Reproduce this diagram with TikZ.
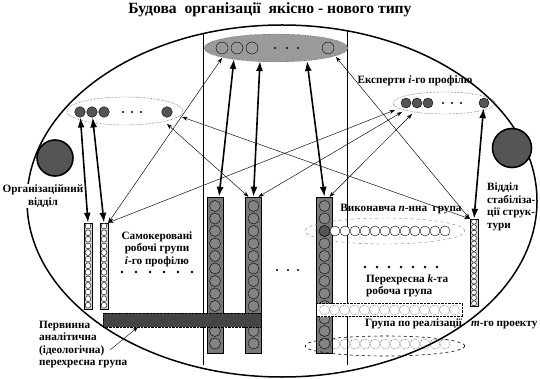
\documentclass[tikz,border=0pt]{standalone}
\usepackage{fontspec}
\setmainfont{Liberation Serif}
\usetikzlibrary{arrows.meta,calc,shapes.geometric}
\definecolor{colgray}{HTML}{787878}
\definecolor{circgray}{HTML}{848484}
\definecolor{topgray}{HTML}{9A9A9A}
\definecolor{dark}{HTML}{555555}
\definecolor{bandgray}{HTML}{454545}
\tikzset{>=Latex,line width=.5pt,
  every node/.style={font=\bfseries\fontsize{11.2}{12.6}\selectfont},
  thinarrow/.style={<->,>={Stealth[length=5.5pt,width=4pt]},line width=.45pt},
  bigarrow/.style={<->,>={Latex[length=10pt,width=7pt]},line width=1.6pt},
  expert/.style={circle,draw,fill=dark,minimum size=10.6pt,inner sep=0pt},
  tallcol/.style={rectangle,draw,fill=colgray,minimum width=16pt,minimum height=156pt,inner sep=0pt},
  smallcol/.style={rectangle,draw,fill=gray!35,minimum width=8pt,inner sep=0pt},
  groupell/.style={ellipse,inner sep=0pt,outer sep=0pt},
  bigdot/.style={circle,draw,line width=1.6pt,fill=dark,inner sep=0pt},
  note/.style={align=left,inner sep=0pt}}
\begin{document}
\begin{tikzpicture}[x=1pt,y=-1pt]
\path[use as bounding box] (0,0) rectangle (540,379);
\node[font=\bfseries\fontsize{15.6}{17}\selectfont] (title) at (270,10) {Будова\ \ організації\ \ якісно - нового типу};
% outer contour and the two vertical lines
\draw[line width=1.5pt] (282,201) ellipse [x radius=255pt, y radius=176pt];
\begin{scope}
\clip (282,201) ellipse [x radius=255pt, y radius=176pt];
\draw (203,0) -- (203,365) (347,0) -- (347,365);
\end{scope}
% leading group on top
\node[groupell,draw,dotted,fill=topgray,minimum width=144pt,minimum height=28pt] (lead) at (276,48) {};
\foreach \x in {222,237,252,328} \draw (\x,48) circle (6pt);
\foreach \x in {275,287,298} \fill (\x,48) circle (1.2pt);
% experts
\node[groupell,draw,densely dotted,minimum width=116pt,minimum height=28pt] (lexp) at (125,111) {};
\foreach \x [count=\i] in {80,92,104,167} \node[expert] (le\i) at (\x,112) {};
\foreach \x in {123,132,141} \fill (\x,112) circle (1.1pt);
\node[groupell,draw,densely dotted,minimum width=102pt,minimum height=22pt] (rexp) at (444,103) {};
\foreach \x [count=\i] in {406,417,428,484} \node[expert,minimum size=10pt] (re\i) at (\x,103) {};
\foreach \x in {443,452,461} \fill (\x,103) circle (1.1pt);
\node (explabel) at (415,81) {Експерти \textit{і}-го профілю};
% departments
\node[bigdot,minimum size=36pt] (orgc) at (55,158) {};
\node[bigdot,minimum size=39pt] (stabc) at (512,148) {};
\node[fill=white,inner sep=1pt,align=center] (orglabel) at (43,196) {Організаційний\\відділ};
\node[note,anchor=west] (stablabel) at (487,207) {Відділ\\стабіліза-\\ції струк-\\тури};
% small columns
\node[smallcol,minimum height=86pt] (lc1) at (88,266) {};
\node[smallcol,minimum height=86pt] (lc2) at (104,266) {};
\foreach \c in {lc1,lc2} \foreach \k in {0,...,12} \draw[fill=white,line width=.4pt] ($(\c.north)+(0,3.3+6.6*\k)$) circle (2.9pt);
\node[smallcol,minimum height=87pt] (rc) at (474,262.5) {};
\foreach \k in {0,...,15} \draw[fill=white,line width=.4pt] (474,221.7+5.44*\k) circle (2.5pt);
% tall columns
\foreach \x/\n in {215/colA,253.5/colB,324.5/colC} {
  \node[tallcol] (\n) at (\x,275) {};
  \foreach \k in {0,...,11} \draw[fill=circgray] (\x,206+12.5*\k) circle (5.5pt);}
\draw[fill=dark] (324.5,231) circle (5.5pt);
\foreach \x in {277,288,298} \fill (\x,270) circle (1.1pt);
% primary cross group
\node[rectangle,draw,densely dotted,fill=bandgray,minimum width=158pt,minimum height=14pt,inner sep=0pt] (pband) at (182,320) {};
\foreach \k in {0,...,11} \draw[densely dotted,draw=black!70] (253.5-13*\k,320) circle (6.3pt);
% executive group
\node[groupell,draw=gray,dashed,minimum width=160pt,minimum height=26pt] (nell) at (385,231) {};
\foreach \k in {0,...,11} \draw[fill=white] (335+10*\k,231) circle (5pt);
\node (nlabel) at (401,209) {Виконавча \textit{n}-нна\ \ група};
% k-th cross group
\node[rectangle,draw,densely dotted,fill=white,minimum width=146pt,minimum height=13pt,inner sep=0pt] (kband) at (389.5,310) {};
\foreach \k in {0,...,13} \draw[densely dotted] (324.5+10*\k,310) circle (5pt);
\node[note,anchor=west] (klabel) at (366,286) {Перехресна \textit{k}-та\\робоча група};
% project group
\node[groupell,draw,dashed,line width=.6pt,minimum width=160pt,minimum height=20pt] (mell) at (385,346) {};
\foreach \k in {0,...,11} \draw[densely dotted] (335+10*\k,344) circle (5pt);
\node[anchor=west,inner sep=0pt] (mlabel) at (365,324) {Група по реалізації\hspace{9pt}\textit{m}-го проекту};
% labels on the left
\node[align=center] (slabel) at (157,249) {Самокеровані\\робочі групи\\\textit{і}-го профілю};
\foreach \k in {0,...,5} \fill (122+14*\k,272) circle (1.3pt);
\foreach \k in {0,...,6} \fill (365+12*\k,267) circle (1.3pt);
\node[note,anchor=west] (plabel) at (39,344.5) {Первинна\\аналітична\\(ідеологічна)\\перехресна група};
\coordinate (pfrom) at (110,350);
\draw[->,>={Stealth[length=5.5pt,width=4pt]}] (pfrom) -- ($(pband.south west)+(35,0)$);
% connections
\coordinate (g1) at (222,58);
\coordinate (g2) at (234,59);
\coordinate (g3) at (260,61);
\coordinate (g4) at (307,61);
\coordinate (g5) at (336,57);
\coordinate (l1) at (182,117);
\coordinate (l2) at (167,124);
\coordinate (r1) at (395,110);
\coordinate (r2) at (402,112);
\coordinate (r3) at (412,114);
\draw[bigarrow] (le1) -- (lc1.north);
\draw[bigarrow] (le2) -- (lc2.north);
\draw[bigarrow] (g2) -- ($(colA.north)+(4,0)$);
\draw[bigarrow] (g3) -- (colB.north);
\draw[bigarrow] (g4) -- (colC.north);
\draw[bigarrow] (re4) -- (rc.north);
\draw[thinarrow] (lc2.north east) -- (g1);
\draw[thinarrow] (lc2.north east) -- (r1);
\draw[thinarrow] (l1) -- (rc.north west);
\draw[thinarrow] (l2) -- ($(colB.north)+(-5,0)$);
\draw[thinarrow] (r2) -- ($(colB.north)+(5,0)$);
\draw[thinarrow] (r3) -- ($(colC.north)+(5,0)$);
\draw[thinarrow] (g5) -- (rc.north west);
\end{tikzpicture}
\end{document}
